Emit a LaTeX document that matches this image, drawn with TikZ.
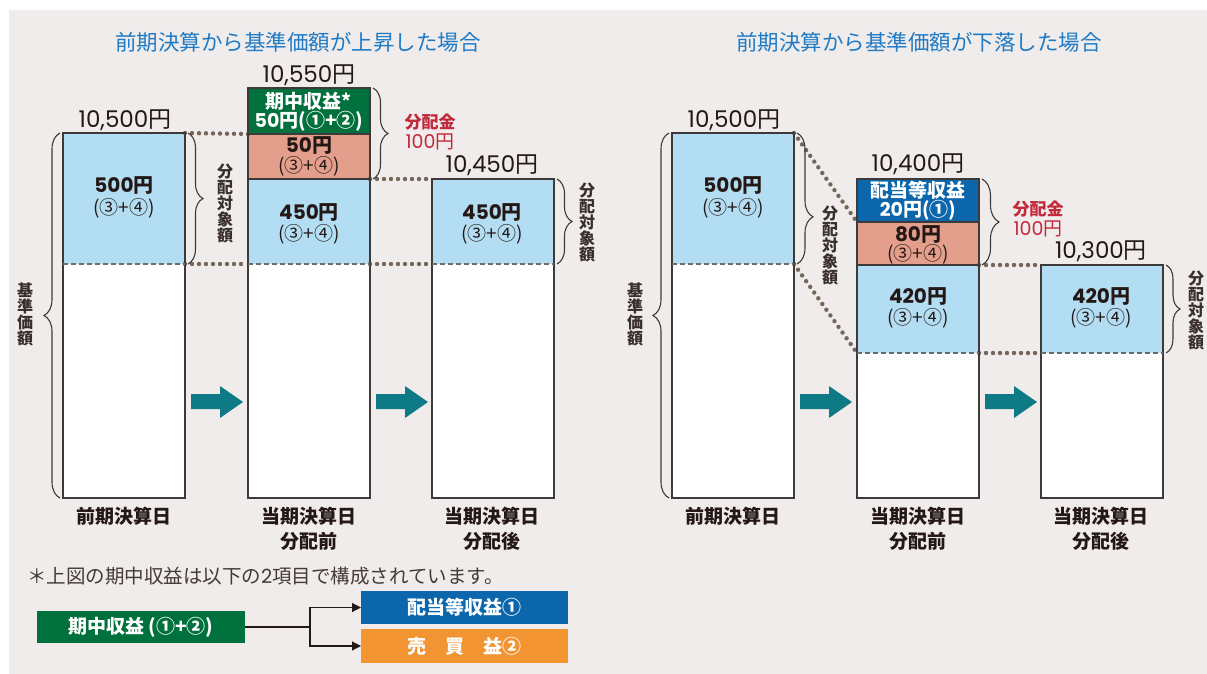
\documentclass[tikz,border=0pt]{standalone}
\usepackage{fontspec}
\setmainfont{Noto Sans CJK JP}
\newfontfamily\popf{Poppins}
\usetikzlibrary{decorations.pathreplacing,arrows.meta}
\newcommand{\pn}[1]{{\popf #1}}
\newcommand{\fsz}[1]{\fontsize{#1}{#1}\selectfont}
\definecolor{panel}{HTML}{F0ECEB}
\definecolor{lblue}{HTML}{B3DDF2}
\definecolor{salmon}{HTML}{E39F8B}
\definecolor{dgreen}{HTML}{00703C}
\definecolor{dblue}{HTML}{0B66AB}
\definecolor{orng}{HTML}{F39432}
\definecolor{tealc}{HTML}{0E7A85}
\definecolor{dotc}{HTML}{75665A}
\definecolor{redt}{HTML}{C22A3C}
\definecolor{titleblue}{HTML}{1F7BC5}
\definecolor{ink}{HTML}{231815}
\definecolor{outl}{HTML}{3E3A39}
\begin{document}
\begin{tikzpicture}[x=1pt,y=1pt,
  seg/.style={inner sep=0pt, outer sep=0pt, anchor=north west, minimum width=122pt},
  barline/.style={draw=outl, line width=1.2pt},
  dashln/.style={draw=outl!75, line width=1.8pt, dash pattern=on 5pt off 3pt},
  dotln/.style={draw=dotc, line width=4.4pt, dash pattern=on 0pt off 7pt, line cap=round},
  brc/.style={draw=outl, line width=1.1pt, decorate},
  txt/.style={inner sep=0pt, outer sep=0pt},
  title/.style={txt, text=titleblue, font=\fsz{21.5}},
  price/.style={txt, text=ink, font=\fsz{23}},
  bnum/.style={txt, text=ink, font=\fsz{20}\bfseries},
  bsub/.style={txt, text=ink, font=\fsz{19}},
  wnum/.style={txt, text=white, font=\fsz{19}\bfseries},
  vlab/.style={txt, text=ink!90, font=\fontsize{16}{16}\selectfont\bfseries, align=center},
  redl/.style={txt, text=redt, font=\fsz{19}},
  daylab/.style={txt, text=ink, font=\fsz{19}\bfseries},
  tarrow/.style={fill=tealc},
  boxlab/.style={text=white, font=\fsz{19}\bfseries, inner sep=0pt, outer sep=0pt, minimum width=207pt},
  conn/.style={draw=ink, line width=1.1pt}
]
\useasboundingbox (0,0) rectangle (1207,-674);
\fill[panel] (9,-10) rectangle (1207,-674);

% ================= LEFT GROUP =================
\node[title] (tL) at (298,-42) {前期決算から基準価額が上昇した場合};

% bar 1
\node[seg, fill=lblue, minimum height=131pt] (A1t) at (63,-133) {};
\node[seg, fill=white, minimum height=234pt] (A1b) at (63,-264) {};
% bar 2
\node[seg, fill=dgreen, minimum height=46pt] (A2g) at (248,-88) {};
\node[seg, fill=salmon, minimum height=45pt] (A2s) at (248,-134) {};
\node[seg, fill=lblue, minimum height=85pt] (A2b) at (248,-179) {};
\node[seg, fill=white, minimum height=234pt] (A2w) at (248,-264) {};
% bar 3
\node[seg, fill=lblue, minimum height=85pt] (A3t) at (432,-179) {};
\node[seg, fill=white, minimum height=234pt] (A3b) at (432,-264) {};

% dotted connectors
\draw[dotln] (A1t.north east) -- (A2s.north west);
\draw[dotln] (A1t.south east) -- (A2b.south west);
\draw[dotln] (A2b.north east) -- (A3t.north west);
\draw[dotln] (A2b.south east) -- (A3t.south west);

% outlines
\draw[barline] (A1t.north west) rectangle (A1b.south east);
\draw[dashln] (A1t.south west) -- (A1t.south east);
\draw[barline] (A2g.north west) rectangle (A2w.south east);
\draw[barline] (A2g.south west) -- (A2g.south east);
\draw[barline] (A2s.south west) -- (A2s.south east);
\draw[dashln] (A2b.south west) -- (A2b.south east);
\draw[barline] (A3t.north west) rectangle (A3b.south east);
\draw[dashln] (A3t.south west) -- (A3t.south east);

% prices
\node[price] (pA1) at (125,-120) {\pn{10,500}円};
\node[price] (pA2) at (309,-75) {\pn{10,550}円};
\node[price] (pA3) at (492,-165) {\pn{10,450}円};

% bar texts
\node[bnum] (A1v) at (124,-186) {\pn{\bfseries 500}円};
\node[bsub] (A1s) at (124,-208) {(③+④)};
\node[wnum] (A2gv) at (309,-101) {期中収益*};
\node[wnum] (A2gs) at (309,-121) {\pn{\bfseries 50}円(①+②)};
\node[bnum] (A2sv) at (309,-146) {\pn{\bfseries 50}円};
\node[bsub] (A2ss) at (309,-166) {(③+④)};
\node[bnum] (A2bv) at (309,-213) {\pn{\bfseries 450}円};
\node[bsub] (A2bs) at (309,-234) {(③+④)};
\node[bnum] (A3v) at (492,-213) {\pn{\bfseries 450}円};
\node[bsub] (A3s) at (492,-234) {(③+④)};

% braces
\draw[brc, decoration={brace, amplitude=16pt}] (60,-498) -- (60,-133);
\node[vlab] (kA) at (25,-314) {基\\準\\価\\額};
\draw[brc, decoration={brace, amplitude=15pt}] (188,-133) -- (188,-264);
\node[vlab] (vA1) at (225,-203) {分\\配\\対\\象\\額};
\draw[brc, decoration={brace, amplitude=15pt}] (373,-88) -- (373,-179);
\node[redl, font=\fsz{17}\bfseries] (rA1) at (430,-122) {分配金};
\node[redl] (rA2) at (430,-142) {\pn{100}円};
\draw[brc, decoration={brace, amplitude=15pt}] (557,-179) -- (557,-264);
\node[vlab] (vA3) at (587,-222) {分\\配\\対\\象\\額};

% arrows
\fill[tarrow] (191,-394) -- (220,-394) -- (220,-386) -- (243,-402) -- (220,-418) -- (220,-409) -- (191,-409) -- cycle;
\fill[tarrow] (376,-394) -- (405,-394) -- (405,-386) -- (428,-402) -- (405,-418) -- (405,-409) -- (376,-409) -- cycle;

% day labels
\node[daylab] (dA1) at (124,-516) {前期決算日};
\node[daylab] (dA2) at (309,-516) {当期決算日};
\node[daylab] (dA2b) at (309,-541) {分配前};
\node[daylab] (dA3) at (492,-516) {当期決算日};
\node[daylab] (dA3b) at (492,-541) {分配後};

% ================= RIGHT GROUP =================
\node[title] (tR) at (919,-42) {前期決算から基準価額が下落した場合};

\node[seg, fill=lblue, minimum height=131pt] (B1t) at (672,-133) {};
\node[seg, fill=white, minimum height=234pt] (B1b) at (672,-264) {};
\node[seg, fill=dblue, minimum height=43pt] (B2g) at (857,-179) {};
\node[seg, fill=salmon, minimum height=43pt] (B2s) at (857,-222) {};
\node[seg, fill=lblue, minimum height=88pt] (B2b) at (857,-265) {};
\node[seg, fill=white, minimum height=145pt] (B2w) at (857,-353) {};
\node[seg, fill=lblue, minimum height=88pt] (B3t) at (1041,-265) {};
\node[seg, fill=white, minimum height=145pt] (B3b) at (1041,-353) {};

\draw[dotln] (B1t.north east) -- (B2s.north west);
\draw[dotln] (B1t.south east) -- (B2b.south west);
\draw[dotln] (B2b.north east) -- (B3t.north west);
\draw[dotln] (B2b.south east) -- (B3t.south west);

\draw[barline] (B1t.north west) rectangle (B1b.south east);
\draw[dashln] (B1t.south west) -- (B1t.south east);
\draw[barline] (B2g.north west) rectangle (B2w.south east);
\draw[barline] (B2g.south west) -- (B2g.south east);
\draw[barline] (B2s.south west) -- (B2s.south east);
\draw[dashln] (B2b.south west) -- (B2b.south east);
\draw[barline] (B3t.north west) rectangle (B3b.south east);
\draw[dashln] (B3t.south west) -- (B3t.south east);

\node[price] (pB1) at (734,-120) {\pn{10,500}円};
\node[price] (pB2) at (918,-164) {\pn{10,400}円};
\node[price] (pB3) at (1101,-251) {\pn{10,300}円};

\node[bnum] (B1v) at (733,-186) {\pn{\bfseries 500}円};
\node[bsub] (B1s) at (733,-208) {(③+④)};
\node[wnum] (B2gv) at (918,-190) {配当等収益};
\node[wnum] (B2gs) at (918,-210) {\pn{\bfseries 20}円(①)};
\node[bnum] (B2sv) at (918,-235) {\pn{\bfseries 80}円};
\node[bsub] (B2ss) at (918,-254) {(③+④)};
\node[bnum] (B2bv) at (918,-297) {\pn{\bfseries 420}円};
\node[bsub] (B2bs) at (918,-318) {(③+④)};
\node[bnum] (B3v) at (1101,-297) {\pn{\bfseries 420}円};
\node[bsub] (B3s) at (1101,-318) {(③+④)};

\draw[brc, decoration={brace, amplitude=16pt}] (669,-498) -- (669,-133);
\node[vlab] (kB) at (635,-314) {基\\準\\価\\額};
\draw[brc, decoration={brace, amplitude=16pt, aspect=0.64}] (797,-133) -- (797,-264);
\node[vlab] (vB1) at (830,-245) {分\\配\\対\\象\\額};
\draw[brc, decoration={brace, amplitude=17pt}] (982,-179) -- (982,-265);
\node[redl, font=\fsz{17}\bfseries] (rB1) at (1038,-209) {分配金};
\node[redl] (rB2) at (1038,-229) {\pn{100}円};
\draw[brc, decoration={brace, amplitude=14pt}] (1166,-265) -- (1166,-353);
\node[vlab] (vB3) at (1196,-310) {分\\配\\対\\象\\額};

\fill[tarrow] (800,-394) -- (829,-394) -- (829,-386) -- (852,-402) -- (829,-418) -- (829,-409) -- (800,-409) -- cycle;
\fill[tarrow] (985,-394) -- (1014,-394) -- (1014,-386) -- (1037,-402) -- (1014,-418) -- (1014,-409) -- (985,-409) -- cycle;

\node[daylab] (dB1) at (733,-516) {前期決算日};
\node[daylab] (dB2) at (918,-516) {当期決算日};
\node[daylab] (dB2b) at (918,-541) {分配前};
\node[daylab] (dB3) at (1101,-516) {当期決算日};
\node[daylab] (dB3b) at (1101,-541) {分配後};

% ================= FOOTNOTE =================
\node[anchor=west, text=ink!85, font=\fsz{19.5}, inner sep=0pt] (fn) at (27,-576) {＊上図の期中収益は以下の\pn{2}項目で構成されています。};

\node[boxlab, fill=dgreen, minimum width=208pt, minimum height=32pt] (G) at (141,-627) {期中収益 (①+②)};
\node[boxlab, fill=dblue, minimum height=33pt] (Bx) at (464.5,-607.5) {配当等収益①};
\node[boxlab, fill=orng, minimum height=34pt] (Ox) at (464.5,-646) {売　買　益②};
\coordinate (J) at (310,-627);
\draw[conn] (G.east) -- (J);
\draw[conn, -{Triangle[length=9pt,width=9pt]}] (J) |- (Bx.west);
\draw[conn, -{Triangle[length=9pt,width=9pt]}] (J) |- (Ox.west);
\end{tikzpicture}
\end{document}
